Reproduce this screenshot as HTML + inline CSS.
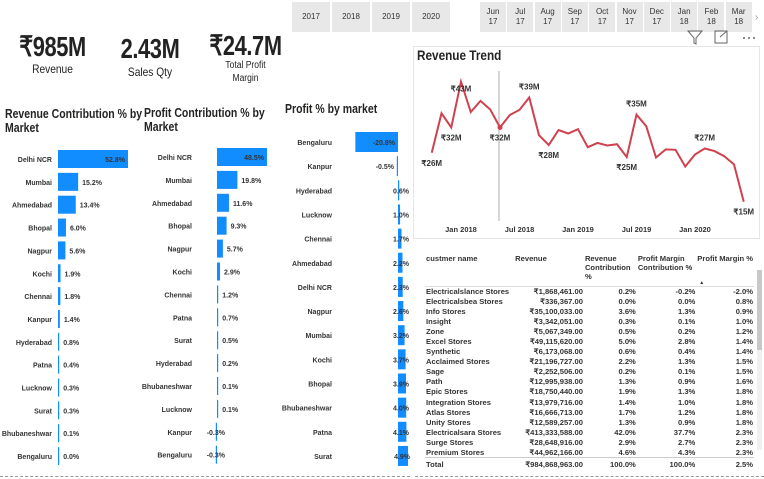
<!DOCTYPE html>
<html><head><meta charset="utf-8">
<style>
body{margin:0;width:764px;height:479px;background:#fff;font-family:"Liberation Sans",sans-serif;overflow:hidden;position:relative;color:#222}
.abs{position:absolute}
.btn{position:absolute;background:#e8e8e8;font-size:8px;color:#333;text-align:center;display:flex;align-items:center;justify-content:center;line-height:10px}
.kpi{position:absolute;font-weight:bold;font-size:28px;color:#222;text-align:center;transform:scaleX(0.78);letter-spacing:-0.5px}
.kl{position:absolute;font-size:12px;text-align:center;line-height:13px;transform:scaleX(0.85)}
.title{position:absolute;font-weight:bold;font-size:12.5px;line-height:14px;color:#252423;transform:scaleX(0.84);transform-origin:left top}
svg text{font-family:"Liberation Sans",sans-serif}
table{border-collapse:collapse;font-size:7.6px;font-weight:bold;color:#333}
td{padding:0 1px}
</style></head><body>
<!-- slicers -->
<div class="btn" style="left:292px;top:2px;width:38px;height:30px">2017</div>
<div class="btn" style="left:332px;top:2px;width:38px;height:30px">2018</div>
<div class="btn" style="left:372px;top:2px;width:38px;height:30px">2019</div>
<div class="btn" style="left:412px;top:2px;width:38px;height:30px">2020</div>
<div id="months"></div>
<div class="abs" style="left:755px;top:12px;font-size:10px;color:#999">›</div>
<!-- KPIs -->
<div class="kpi" style="left:0px;top:30px;width:105px">₹985M</div>
<div class="kl" style="left:5px;top:63px;width:95px">Revenue</div>
<div class="kpi" style="left:105px;top:33px;width:90px">2.43M</div>
<div class="kl" style="left:105px;top:66px;width:90px">Sales Qty</div>
<div class="kpi" style="left:193px;top:29px;width:105px">₹24.7M</div>
<div class="kl" style="left:198px;top:59px;width:95px;font-size:10px;line-height:13px">Total Profit<br>Margin</div>
<!-- icons -->
<svg class="abs" style="left:685px;top:28px" width="79" height="18">
<g><path d="M3 3 H17 L11 10 V16 L9 15 V10 Z" fill="none" stroke="#666" stroke-width="1"/></g>
<g><rect x="30" y="3" width="12" height="12" fill="none" stroke="#666"/><path d="M35 9 L42 3 M38 3 H42 V7" stroke="#666" fill="none"/></g>
<g><circle cx="59" cy="10" r="1" fill="#666"/><circle cx="64" cy="10" r="1" fill="#666"/><circle cx="69" cy="10" r="1" fill="#666"/></g>
</svg>
<!-- bar chart titles -->
<div class="title" style="left:5px;top:107px;width:165px">Revenue Contribution % by Market</div>
<div class="title" style="left:144px;top:106px;width:150px">Profit Contribution % by Market</div>
<div class="title" style="left:285px;top:102px;width:150px">Profit % by market</div>
<svg id="bars" class="abs" style="left:0;top:0" width="415" height="479"></svg>
<div class="abs" style="left:0;top:476px;width:410px;border-top:1px dashed #999"></div>
<!-- line chart -->
<div class="abs" style="left:413px;top:46px;width:345px;height:191px;border:1px solid #e6e6e6"></div>
<div class="title" style="left:417px;top:48px;font-size:14px">Revenue Trend</div>
<svg id="line" class="abs" style="left:0;top:0" width="764" height="240"></svg>
<!-- table -->
<div class="abs" style="left:415px;top:242px;width:349px;height:237px">
<table id="tbl" style="position:absolute;left:10px;top:9px;width:329px"></table>
<div class="abs" style="left:342px;top:28px;width:5px;height:180px;background:#f0f0f0"></div>
<div class="abs" style="left:342px;top:28px;width:5px;height:80px;background:#c8c8c8"></div>
<div class="abs" style="left:0;top:234px;width:349px;border-top:1px dashed #999"></div>
</div>
<script>
const monthLabels=["Jun 17","Jul 17","Aug 17","Sep 17","Oct 17","Nov 17","Dec 17","Jan 18","Feb 18","Mar 18"];
const mc=document.getElementById('months');
monthLabels.forEach((m,i)=>{const d=document.createElement('div');d.className='btn';


d.style.cssText=`left:${480+i*27.3}px;top:2px;width:26px;height:30px`;d.innerHTML=m.replace(' ','<br>');mc.appendChild(d);});

// bar charts
const revMarkets=["Delhi NCR","Mumbai","Ahmedabad","Bhopal","Nagpur","Kochi","Chennai","Kanpur","Hyderabad","Patna","Lucknow","Surat","Bhubaneshwar","Bengaluru"];
const revValues=[52.8,15.2,13.4,6.0,5.6,1.9,1.8,1.4,0.8,0.4,0.3,0.3,0.1,0.0];
const profMarkets=["Delhi NCR","Mumbai","Ahmedabad","Bhopal","Nagpur","Kochi","Chennai","Patna","Surat","Hyderabad","Bhubaneshwar","Lucknow","Kanpur","Bengaluru"];
const profValues=[48.5,19.8,11.6,9.3,5.7,2.9,1.2,0.7,0.5,0.2,0.1,0.1,-0.3,-0.3];
const pctMarkets=["Bengaluru","Kanpur","Hyderabad","Lucknow","Chennai","Ahmedabad","Delhi NCR","Nagpur","Mumbai","Kochi","Bhopal","Bhubaneshwar","Patna","Surat"];
const pctValues=[-20.8,-0.5,0.6,1.0,1.7,2.2,2.3,2.6,3.2,3.7,3.9,4.0,4.1,4.9];
const NS='http://www.w3.org/2000/svg';
function el(t,a,p){const e=document.createElementNS(NS,t);for(const k in a)e.setAttribute(k,a[k]);p.appendChild(e);return e;}
function barChart(svg,name,cats,vals,axisX,scale,labelRight,y0,step,bh){
  cats.forEach((c,i)=>{const cy=y0+i*step;const v=vals[i];
    const w=Math.max(Math.abs(v)*scale,1.2);const x=v>=0?axisX:axisX-w;
    const t=el('text',{x:labelRight,y:cy+3,'text-anchor':'end','font-size':7,'font-weight':'bold',fill:'#333'},svg);t.textContent=c;
    
    
    const r=el('rect',{x:x,y:cy-bh/2,width:w,height:bh,fill:'#118dff'},svg);
    
    
    const txt=(v.toFixed(1))+'%';const inside=w>35;
    let lx=inside?x+w-3:(v>=0?x+w+4:axisX);const anchor=inside?'end':(v>=0?'start':'end');
    if(!inside&&v<0)lx=axisX+8;
    const l=el('text',{x:lx,y:cy+3,'text-anchor':(!inside&&name==='profit-pct')?'end':anchor,'font-size':7,'font-weight':'bold',fill:'#333'},svg);
    if(!inside&&name==='profit-pct'){l.setAttribute('x',v<0?axisX-4:Math.max(axisX+w+2,axisX+11));}
    l.textContent=txt;
    
    
  });
}
const bs=document.getElementById('bars');
barChart(bs,'revenue-contribution',revMarkets,revValues,58,70/52.8,52,159,22.85,18);
barChart(bs,'profit-contribution',profMarkets,profValues,217,50/48.5,192,157,22.9,18);
barChart(bs,'profit-pct',pctMarkets,pctValues,398,2.05,332,142,24.15,20);

// line chart
const trendValues=[26.4,35.6,32.3,43,35.9,38.5,36.5,32.3,35.2,36.4,39.3,30.5,28.2,31.7,30.9,31.9,27.7,28.7,28.1,28.4,25.4,35.3,32.6,25.3,27.2,27.1,23.2,26,27.4,26.8,25.6,23.7,15];
const trendStartMonth=9; // months since Jan 2017 -> Oct 2017
const xTicks=["Jan 2018","Jul 2018","Jan 2019","Jul 2019","Jan 2020"];
const xTickMonths=[12,18,24,30,36];
const pointLabels={0:"₹26M",2:"₹32M",3:"₹43M",7:"₹32M",10:"₹39M",12:"₹28M",20:"₹25M",21:"₹35M",28:"₹27M",32:"₹15M"};
const ls=document.getElementById('line');
const xs=m=>461+(m-12)*9.75;
const ys=v=>201.7-(v-15)*4.29;
const gl=el('line',{x1:499,x2:499,y1:71,y2:221,stroke:'#c8c8c8','stroke-width':1.5},ls);


const pts=trendValues.map((v,i)=>[xs(trendStartMonth+i),ys(v)]);
const pl=el('polyline',{points:pts.map(p=>p.join(',')).join(' '),fill:'none',stroke:'#d0414f','stroke-width':2},ls);


const d7=el('circle',{cx:pts[7][0],cy:pts[7][1],r:2.5,fill:'#d0414f'},ls);


const peaks={3:1,10:1,21:1,28:1};
for(const k in pointLabels){const i=+k;const above=peaks[i];
  const t=el('text',{x:pts[i][0],y:above?pts[i][1]-(i===3?-10:8):pts[i][1]+13,'text-anchor':'middle','font-size':8,'font-weight':'bold',fill:'#333'},ls);
  t.textContent=pointLabels[k];
  
  
}
xTicks.forEach((t,i)=>{const e=el('text',{x:xs(xTickMonths[i]),y:232,'text-anchor':'middle','font-size':7.5,'font-weight':'bold',fill:'#333'},ls);e.textContent=t;
  
  });

// table
const rows=[["Electricalslance Stores","₹1,868,461.00","0.2%","-0.2%","-2.0%"],["Electricalsbea Stores","₹336,367.00","0.0%","0.0%","0.8%"],["Info Stores","₹35,100,033.00","3.6%","1.3%","0.9%"],["Insight","₹3,342,051.00","0.3%","0.1%","1.0%"],["Zone","₹5,067,349.00","0.5%","0.2%","1.2%"],["Excel Stores","₹49,115,620.00","5.0%","2.8%","1.4%"],["Synthetic","₹6,173,068.00","0.6%","0.4%","1.4%"],["Acclaimed Stores","₹21,196,727.00","2.2%","1.3%","1.5%"],["Sage","₹2,252,506.00","0.2%","0.1%","1.5%"],["Path","₹12,995,938.00","1.3%","0.9%","1.6%"],["Epic Stores","₹18,750,440.00","1.9%","1.3%","1.8%"],["Integration Stores","₹13,979,716.00","1.4%","1.0%","1.8%"],["Atlas Stores","₹16,666,713.00","1.7%","1.2%","1.8%"],["Unity Stores","₹12,589,257.00","1.3%","0.9%","1.8%"],["Electricalsara Stores","₹413,333,588.00","42.0%","37.7%","2.3%"],["Surge Stores","₹28,648,916.00","2.9%","2.7%","2.3%"],["Premium Stores","₹44,962,166.00","4.6%","4.3%","2.3%"]];
const tb=document.getElementById('tbl');
let h='<tr style="height:35px;vertical-align:top;border-bottom:1px solid #ddd;line-height:9px"><td style="width:88px;padding-top:3px">custmer name</td><td style="width:70px;padding-top:3px">Revenue</td><td style="width:52px;padding-top:3px">Revenue Contribution %</td><td style="width:60px;padding-top:3px">Profit Margin Contribution %</td><td style="padding-top:3px;position:relative;white-space:nowrap">Profit Margin %<span style="position:absolute;left:3px;top:28px;font-size:5px">▲</span></td></tr>';
rows.forEach(r=>{h+=`<tr style="height:10.1px;line-height:9px"><td style="white-space:nowrap">${r[0]}</td><td style="text-align:right">${r[1]}</td><td style="text-align:right">${r[2]}</td><td style="text-align:right">${r[3]}</td><td style="text-align:right">${r[4]}</td></tr>`;});
h+='<tr style="border-top:1px solid #ccc;height:14px"><td>Total</td><td style="text-align:right">₹984,868,963.00</td><td style="text-align:right">100.0%</td><td style="text-align:right">100.0%</td><td style="text-align:right">2.5%</td></tr>';
tb.innerHTML=h;
</script>
</body></html>
